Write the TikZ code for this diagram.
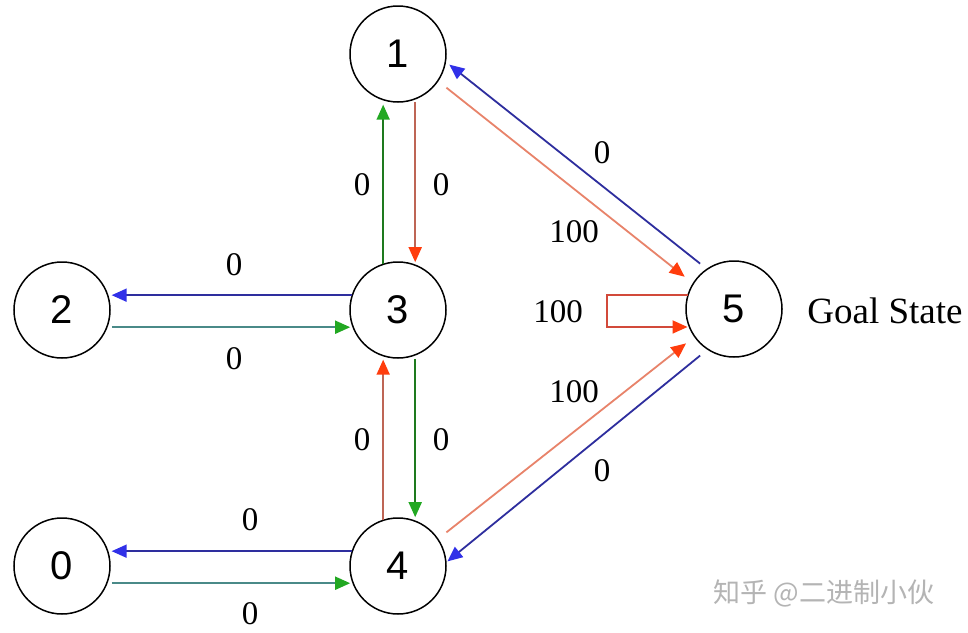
\documentclass[tikz,border=0pt]{standalone}
\usepackage{fontspec}
\setmainfont{Liberation Serif}
\newfontfamily\numfont{Liberation Sans}
\newfontfamily\cjk{Noto Sans CJK SC}
\usetikzlibrary{arrows.meta}
\definecolor{blueline}{HTML}{2E2E9E}
\definecolor{bluetip}{HTML}{3030E8}
\definecolor{redline}{HTML}{E8836A}
\definecolor{redvline}{HTML}{BE6555}
\definecolor{redloop}{HTML}{D24A3A}
\definecolor{redtip}{HTML}{FF3D0D}
\definecolor{greenline}{HTML}{1E7A1E}
\definecolor{greentip}{HTML}{22A822}
\definecolor{tealline}{HTML}{4A8A88}
\definecolor{wmgray}{HTML}{B4B4B4}
\begin{document}
\begin{tikzpicture}[x=1pt,y=-1pt,
  state/.style={circle,draw=black,line width=1.5pt,minimum size=96pt,inner sep=0pt,outer sep=0pt,
    font=\numfont\fontsize{40}{40}\selectfont},
  lab/.style={inner sep=0pt,font=\fontsize{33}{33}\selectfont},
  arrtip/.style={-{Triangle[length=15pt,width=13pt,color=#1]}},
  bl/.style={line width=1.8pt,draw=blueline,arrtip=bluetip},
  tl/.style={line width=1.8pt,draw=tealline,arrtip=greentip},
  gl/.style={line width=1.8pt,draw=greenline,arrtip=greentip},
  rld/.style={line width=1.8pt,draw=redline,arrtip=redtip},
  rlv/.style={line width=1.8pt,draw=redvline,arrtip=redtip},
  rll/.style={line width=1.8pt,draw=redloop,arrtip=redtip},
]
\useasboundingbox (0,0) rectangle (968,632);
\fill[white] (0,0) rectangle (968,632);

\node[state] (n1) at (398,54)  {\raisebox{-5pt}{1}};
\node[state] (n2) at (62,310)  {\raisebox{-5pt}{2}};
\node[state] (n3) at (398,310) {\raisebox{-5pt}{3}};
\node[state] (n5) at (734,309) {\raisebox{-5pt}{5}};
\node[state] (n0) at (62,566)  {\raisebox{-5pt}{0}};
\node[state] (n4) at (398,566) {\raisebox{-5pt}{4}};

\node[inner sep=0pt,font=\fontsize{37}{37}\selectfont] (goal) at (885,311) {Goal State};

% horizontal edges
\draw[bl,shorten >=4pt] (n3.162) -- (n2.18);
\draw[tl,shorten <=5pt,shorten >=3pt] (n2.339) -- (n3.201);
\draw[bl,shorten >=4pt] (n4.162) -- (n0.18);
\draw[tl,shorten <=5pt,shorten >=3pt] (n0.339) -- (n4.201);

% vertical edges
\draw[gl,shorten >=5pt] (n3.108) -- (n1.252);
\draw[rlv,shorten <=3pt,shorten >=3pt] (n1.291) -- (n3.69);
\draw[rlv,shorten >=4pt] (n4.108) -- (n3.252);
\draw[gl,shorten <=4pt,shorten >=4pt] (n3.291) -- (n4.69);

% diagonal edges
\draw[rld,shorten <=11pt,shorten >=11pt] (n1.-34) -- (n5.148);
\draw[bl,shorten <=9pt,shorten >=5pt] (n5.124) -- (n1.-9);
\draw[rld,shorten <=11pt,shorten >=11pt] (n4.34) -- (n5.215);
\draw[bl,shorten <=10pt,shorten >=2pt] (n5.237) -- (n4.4);

% self loop
\draw[rll,shorten >=2pt] (n5.163) -- ++(-81,0) |- (n5.202);

% labels
\node[lab] (l32) at (234,265) {0};
\node[lab] (l23) at (234,359) {0};
\node[lab] (l40) at (250,520) {0};
\node[lab] (l04) at (250,614) {0};
\node[lab] (l31) at (362,185) {0};
\node[lab] (l13) at (441,185) {0};
\node[lab] (l43) at (362,440) {0};
\node[lab] (l34) at (441,440) {0};
\node[lab] (l51) at (602,153) {0};
\node[lab] (l15) at (574,232) {100};
\node[lab] (l55) at (558,312) {100};
\node[lab] (l45) at (574,392) {100};
\node[lab] (l54) at (602,471) {0};

\node[inner sep=0pt,font=\cjk\fontsize{27}{27}\selectfont,text=wmgray] (wm) at (824,593) {知乎 @二进制小伙};
\end{tikzpicture}
\end{document}
